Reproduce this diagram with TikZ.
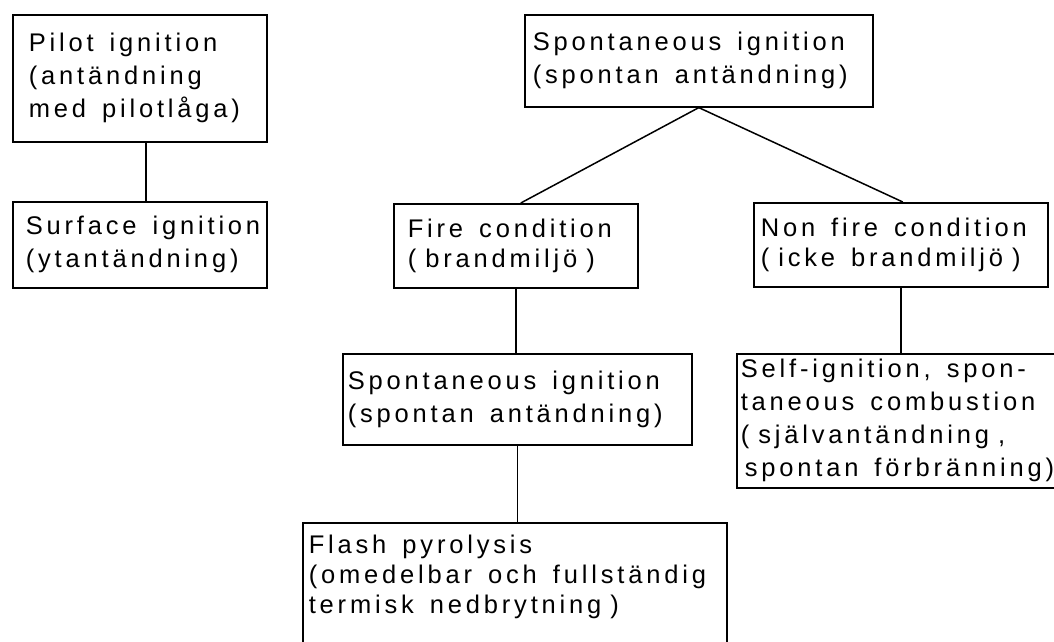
\documentclass[tikz,border=0pt]{standalone}
\usepackage{fontspec}
\setmainfont{Liberation Sans}[LetterSpace=15]
\newcommand\pgap{\kern9pt\relax}
\begin{document}
\begin{tikzpicture}[x=1pt,y=-1pt,
  box/.style={draw, line width=1.6pt, anchor=north west, align=left,
    font=\fontsize{25.5}{33}\selectfont, inner ysep=0pt,
    execute at begin node={\spaceskip=16pt\relax}},
  link/.style={line width=1.5pt}]
\useasboundingbox (0,0) rectangle (1054,641);
\clip (0,0) rectangle (1054,641);
\node[box, minimum width=254, minimum height=127, inner xsep=16, text width=222] (b1) at (12,14)
  {\mbox{Pilot ignition}\\\mbox{(antändning}\\\mbox{med pilotlåga)}};
\node[box, minimum width=254, minimum height=86, inner xsep=13, text width=228] (b2) at (12,201)
  {\mbox{Surface ignition}\\\mbox{(ytantändning)}};
\node[box, minimum width=348, minimum height=92, inner xsep=8, text width=332] (b3) at (524,14)
  {\mbox{Spontaneous ignition}\\\mbox{(spontan antändning)}};
\node[box, minimum width=244, minimum height=84, inner xsep=14, text width=216,
  font=\fontsize{25.5}{30}\selectfont] (b4) at (393,203)
  {\mbox{Fire condition}\\\mbox{(\pgap brandmiljö\pgap)}};
\node[box, minimum width=294, minimum height=84, inner xsep=7, text width=280,
  font=\fontsize{25.5}{30}\selectfont] (b5) at (753,202)
  {\mbox{Non fire condition}\\\mbox{(\pgap icke brandmiljö\pgap)}};
\node[box, minimum width=349, minimum height=91, inner xsep=5, text width=339] (b6) at (342,353)
  {\mbox{Spontaneous ignition}\\\mbox{(spontan antändning)}};
\node[box, minimum width=334, minimum height=134, inner xsep=4, text width=326] (b7) at (736,353)
  {\mbox{Self-ignition, spon-}\\\mbox{taneous combustion}\\\mbox{(\pgap självantändning\pgap,}\\\mbox{\hspace{4pt}spontan förbränning)}};
\node[box, minimum width=424, inner xsep=6, inner ysep=12, text width=412,
  font=\fontsize{25.5}{30}\selectfont] (b8) at (302,522)
  {\mbox{Flash pyrolysis}\\\mbox{(omedelbar och fullständig}\\\mbox{termisk nedbrytning\pgap)}\rule[-40pt]{0pt}{0pt}};
\draw[link] ([xshift=6]b1.south) -- ([xshift=6]b2.north);
\draw[link] ([xshift=5]b4.north) -- (b3.south) -- ([xshift=2]b5.north);
\draw[link] (b4.south) -- (b4.south |- b6.north);
\draw[link] (b5.south) -- (b5.south |- b7.north);
\draw[link] (b6.south) -- (b6.south |- b8.north);
\end{tikzpicture}
\end{document}
